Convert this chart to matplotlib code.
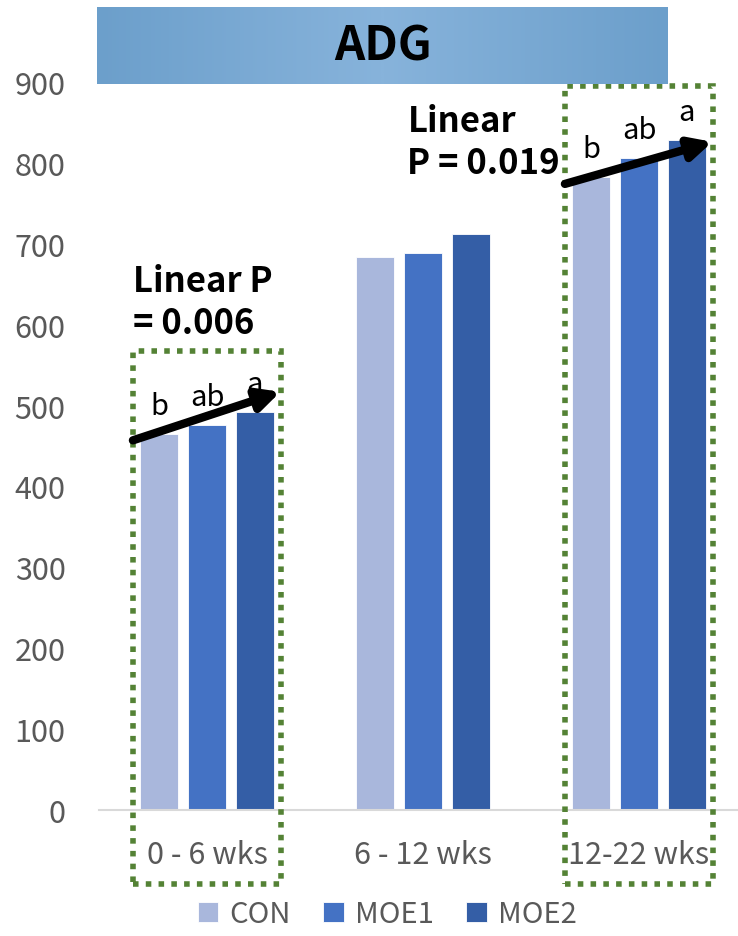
import numpy as np
import matplotlib.pyplot as plt
from matplotlib.patches import Rectangle
from matplotlib.colors import LinearSegmentedColormap

plt.rcParams['font.family'] = ['Noto Sans CJK KR', 'DejaVu Sans']

categories = ['0 - 6 wks', '6 - 12 wks', '12-22 wks']
series = ['CON', 'MOE1', 'MOE2']
con = [465, 684, 782]
moe1 = [476, 689, 806]
moe2 = [492, 712, 828]
letters = {0: ['b', 'ab', 'a'], 2: ['b', 'ab', 'a']}
pvalues = {0: 'Linear P\n= 0.006', 2: 'Linear\nP = 0.019'}
# trend arrows: (group, start y, end y)
arrows = [(0, 457, 517), (2, 774, 826)]
yticks = [0, 100, 200, 300, 400, 500, 600, 700, 800, 900]

colors = ['#a9b7dc', '#4472c4', '#345ea6']
green = '#548235'
gray = '#595959'

fig = plt.figure(figsize=(7.38, 9.37), dpi=100)
ax = fig.add_axes([99 / 738, 126 / 937, 648 / 738, 728 / 937])

x = np.arange(len(categories))
width = 0.176
step = 0.222
values = [con, moe1, moe2]
bars = []
for k, (name, vals) in enumerate(zip(series, values)):
    b = ax.bar(x + (k - 1) * step, vals, width, color=colors[k], label=name,
               edgecolor='white', linewidth=0.6)
    bars.append(b)

ax.set_xlim(-0.5, 2.5)
ax.set_ylim(0, 900)
ax.set_yticks(yticks)
ax.set_xticks(x)
ax.set_xticklabels(categories)
ax.tick_params(axis='both', length=0, colors=gray, labelsize=22)
ax.tick_params(axis='y', pad=24)
ax.tick_params(axis='x', pad=21)
for s in ['top', 'right', 'left']:
    ax.spines[s].set_visible(False)
ax.spines['bottom'].set_color('#d9d9d9')
ax.spines['bottom'].set_linewidth(1.5)

# significance letters and dotted boxes
for i, labs in letters.items():
    for k, lab in enumerate(labs):
        ax.text(i + (k - 1) * step, values[k][i] + 35, lab, ha='center',
                va='center', fontsize=21, color='black')
    top = 567 if i == 0 else 895
    ax.add_patch(Rectangle((i - 0.343, -92), 0.685, top + 92, fill=False,
                           edgecolor=green, linestyle=(0, (1, 1.3)), lw=4,
                           clip_on=False, zorder=4))

for i, y0, y1 in arrows:
    ax.annotate('', xy=(i + 0.34, y1), xytext=(i - 0.343, y0),
                arrowprops=dict(arrowstyle='-|>,head_length=1.3,head_width=0.65',
                                lw=6, color='black', shrinkA=0, shrinkB=0),
                zorder=5)

ax.text(-0.343, 676, pvalues[0], fontsize=25, fontweight='bold', va='top',
        ha='left', linespacing=1.25)
ax.text(0.928, 874, pvalues[2], fontsize=25, fontweight='bold', va='top',
        ha='left', linespacing=1.25)

# title box with gradient
tax = fig.add_axes([97 / 738, 1 - 85 / 937, 571 / 738, 77 / 937])
grad = np.abs(np.linspace(-1, 1, 256))[None, :]
cmap = LinearSegmentedColormap.from_list('t', ['#87b3db', '#6c9fcb'])
tax.imshow(grad, aspect='auto', cmap=cmap, extent=[0, 1, 0, 1])
tax.set_axis_off()
tax.text(0.5, 0.5, 'ADG', ha='center', va='center', fontsize=34,
         fontweight='bold', color='black', transform=tax.transAxes)

fig.legend(handles=bars, labels=series, loc='center', ncol=3,
           bbox_to_anchor=(0.525, 22 / 937), frameon=False, fontsize=21,
           handlelength=0.7, handleheight=0.7, handletextpad=0.4,
           columnspacing=1.1, labelcolor=gray)

fig.savefig('out.png', dpi=100)
